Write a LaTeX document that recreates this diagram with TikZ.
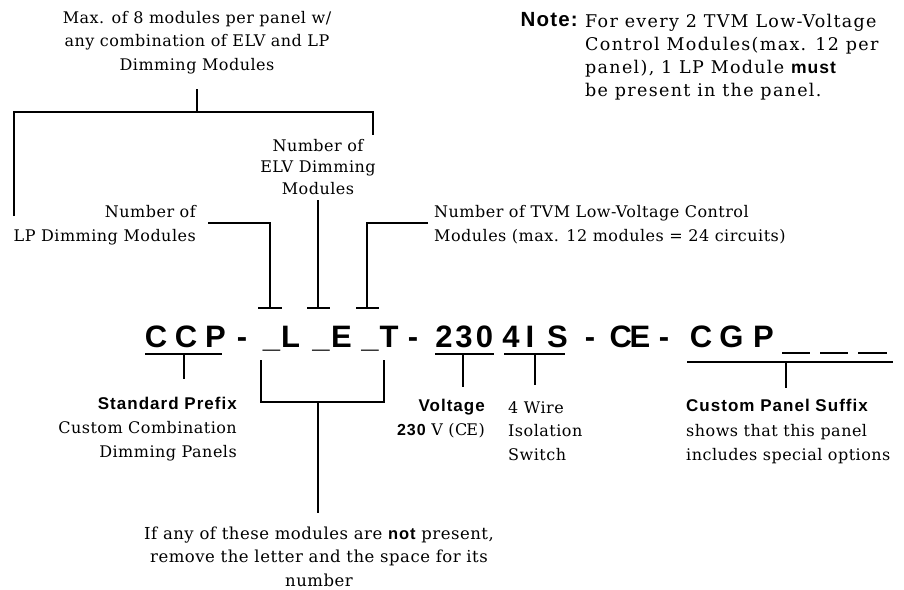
\documentclass[tikz,border=0pt]{standalone}
\usepackage{fontspec}
\setmainfont{DejaVu Serif}[LetterSpace=3]
\newfontfamily\notefont{DejaVu Serif}[LetterSpace=7.5]
\newfontfamily\sfbold{Liberation Sans}[LetterSpace=6]
\newfontfamily\codefont{Liberation Sans}
\newcommand{\SB}[1]{{\sfbold\bfseries #1}}
\begin{document}
\begin{tikzpicture}[x=1pt,y=-1pt,
  ln/.style={line width=2.6pt},
  txt/.style={inner sep=0pt,font=\fontsize{16}{23.5}\selectfont},
  lbl/.style={inner sep=0pt,font=\fontsize{17}{24}\selectfont\sfbold\bfseries},
  code/.style={inner sep=0pt,anchor=base,font=\fontsize{31}{31}\selectfont\codefont\bfseries}]
\useasboundingbox (0,0) rectangle (904,589);

% ---------- top texts (anchor = baseline of last line) ----------
\node[txt,align=center,anchor=base] (maxt) at (197,70) {Max. of 8 modules per panel w/\\any combination of ELV and LP\\Dimming Modules};
\node[lbl,anchor=base east,font=\fontsize{20.5}{24}\selectfont\sfbold\bfseries] (note) at (578,27) {Note:};
\node[txt,align=left,anchor=base west,font=\fontsize{17.5}{23}\selectfont\notefont] (notet) at (585,96) {For every 2 TVM Low-Voltage\\Control Modules(max. 12 per\\panel), 1 LP Module \SB{must}\\be present in the panel.};
\node[txt,align=center,anchor=base,font=\fontsize{16}{21.5}\selectfont] (elvt) at (318,194) {Number of\\ELV Dimming\\Modules};
\node[txt,align=right,anchor=base east] (lpt) at (196,241) {Number of\\LP Dimming Modules};
\node[txt,align=left,anchor=base west] (tvmt) at (434,241) {Number of TVM Low-Voltage Control\\Modules (max. 12 modules = 24 circuits)};

% ---------- code ----------
\node[code] (c1) at (156,347) {C};
\node[code] (c2) at (186,347) {C};
\node[code] (p1) at (215.5,347) {P};
\node[code] (d1) at (242,347) {-};
\node[code] (u1) at (271.5,347) {\_};
\node[code] (lL) at (290.5,347) {L};
\node[code] (u2) at (321,347) {\_};
\node[code] (lE) at (341.5,347) {E};
\node[code] (u3) at (370,347) {\_};
\node[code] (lT) at (389,347) {T};
\node[code] (d2) at (413,347) {-};
\node[code] (n2) at (444,347) {2};
\node[code] (n3) at (464,347) {3};
\node[code] (n0) at (484.5,347) {0};
\node[code] (n4) at (511,347) {4};
\node[code] (lI) at (530,347) {I};
\node[code] (lS) at (557.5,347) {S};
\node[code] (d3) at (590,347) {-};
\node[code] (ce) at (630,347) {C\kern-2.5pt E};
\node[code] (d4) at (664,347) {-};
\node[code] (g1) at (701,347) {C};
\node[code] (g2) at (731.5,347) {G};
\node[code] (g3) at (763.5,347) {P};
\draw[ln] (782,353) -- (810,353);
\draw[ln] (820,353) -- (848,353);
\draw[ln] (858,353) -- (887,353);

% ---------- top brackets ----------
\coordinate (mt) at (197,89);
\coordinate (mb) at (197,112);
\coordinate (bl) at (14,112);
\coordinate (br) at (373,112);
\draw[ln] (mt) -- (mb);
\draw[ln] (14,216) -- (bl) -- (br) -- (373,135);

% LP tee
\coordinate (lpa) at (208,223);
\coordinate (lpb) at (270,308);
\draw[ln] (lpa) -- (270,223) -- (lpb);
\draw[ln] (258,308) -- (282,308);
% ELV tee
\coordinate (elva) at (318,200);
\coordinate (elvb) at (318,308);
\draw[ln] (elva) -- (elvb);
\draw[ln] (307,308) -- (330,308);
% TVM tee
\coordinate (tvma) at (428,223);
\coordinate (tvmb) at (367,308);
\draw[ln] (tvma) -- (367,223) -- (tvmb);
\draw[ln] (356,308) -- (379,308);

% ---------- lower brackets ----------
\draw[ln] (145,354) -- (222,354);
\draw[ln] (184,354) -- (184,379);
\draw[ln] (261,360) -- (261,402) -- (384,402) -- (384,360);
\draw[ln] (318,402) -- (318,513);
\draw[ln] (435,354) -- (494,354);
\draw[ln] (463,354) -- (463,387);
\draw[ln] (504,354) -- (565,354);
\draw[ln] (535,354) -- (535,385);
\draw[ln] (687,362) -- (893,362);
\draw[ln] (786,362) -- (786,388);

% ---------- lower texts ----------
\node[lbl,anchor=base east] (spt) at (237,409) {Standard Prefix};
\node[txt,align=right,anchor=base east] (spd) at (237,457) {Custom Combination\\Dimming Panels};
\node[lbl,anchor=base east] (volt) at (485,411) {Voltage};
\node[txt,anchor=base east] (vold) at (485,435) {\SB{230} V (C\kern-1pt E)};
\node[txt,align=left,anchor=base west] (wire) at (508,460) {4 Wire\\Isolation\\Switch};
\node[lbl,anchor=base west] (cps) at (686,411) {Custom Panel Suffix};
\node[txt,align=left,anchor=base west] (cpd) at (686,460) {shows that this panel\\includes special options};
\node[txt,align=center,anchor=base,font=\fontsize{16.5}{23.5}\selectfont] (bot) at (319,586) {If any of these modules are \SB{not} present,\\remove the letter and the space for its\\number};
\end{tikzpicture}
\end{document}
